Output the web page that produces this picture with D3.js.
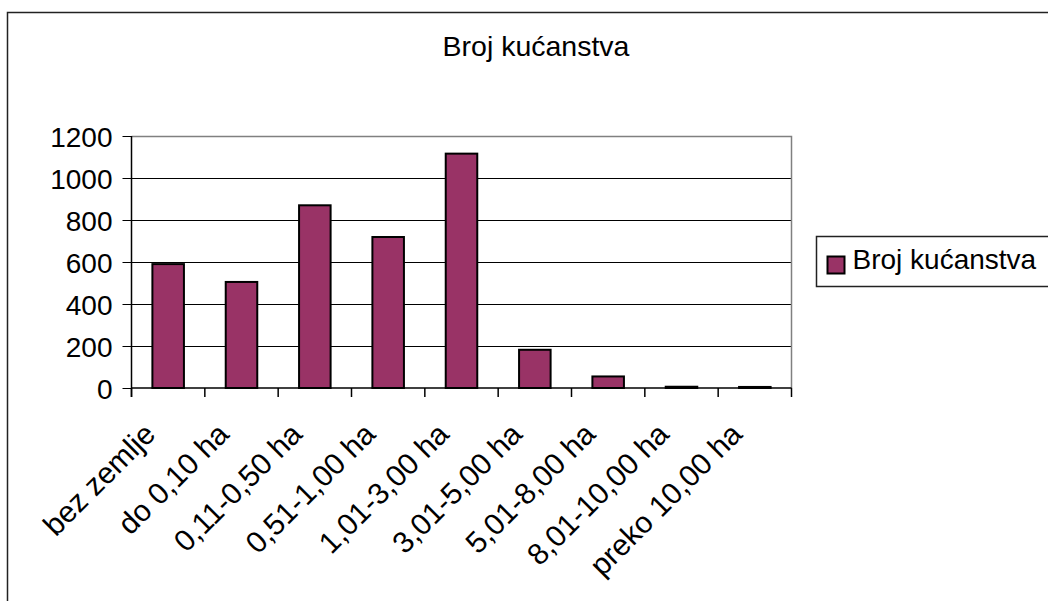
<!DOCTYPE html>
<html>
<head>
<meta charset="utf-8">
<script src="https://cdn.jsdelivr.net/npm/d3@7"></script>
<style>
  body { margin: 0; background: #fff; }
  text { font-family: "Liberation Sans", Arial, sans-serif; fill: #000; }
</style>
</head>
<body>
<div id="chart"></div>
<script>
var categories = ["bez zemlje", "do 0,10 ha", "0,11-0,50 ha", "0,51-1,00 ha", "1,01-3,00 ha",
                  "3,01-5,00 ha", "5,01-8,00 ha", "8,01-10,00 ha", "preko 10,00 ha"];
var values = [590, 505, 870, 719, 1116, 182, 55, 6, 5];
var yTicks = [0, 200, 400, 600, 800, 1000, 1200];
var seriesName = "Broj kućanstva";
var title = "Broj kućanstva";

var W = 1048, H = 601;
var margin = {top: 136, left: 131.5, right: 256.5, bottom: 213};
var width = W - margin.left - margin.right,
    height = H - margin.top - margin.bottom;

var svg = d3.select("#chart").append("svg")
    .attr("width", W)
    .attr("height", H);

// outer chart border (runs off the page on right/bottom)
svg.append("rect")
    .attr("x", 7.5).attr("y", 12.5)
    .attr("width", 1200).attr("height", 800)
    .attr("fill", "none")
    .attr("stroke", "#222")
    .attr("stroke-width", 1.5);

svg.append("text")
    .attr("x", 536)
    .attr("y", 56)
    .attr("text-anchor", "middle")
    .style("font-size", "28.5px")
    .text(title);

var xScale = d3.scaleBand()
    .domain(categories)
    .range([0, width])
    .padding(0);

var yScale = d3.scaleLinear()
    .domain([0, 1200])
    .range([height, 0]);

var g = svg.append("g")
    .attr("transform", "translate(" + margin.left + "," + margin.top + ")");

// gridlines
g.selectAll("line.grid")
    .data(yTicks.filter(function(d) { return d > 0 && d < 1200; }))
    .enter().append("line")
    .attr("class", "grid")
    .attr("x1", 0).attr("x2", width)
    .attr("y1", function(d) { return Math.round(yScale(d)) + 0.5; })
    .attr("y2", function(d) { return Math.round(yScale(d)) + 0.5; })
    .attr("stroke", "#000")
    .attr("stroke-width", 1);

// plot area border top/right (grey)
g.append("path")
    .attr("d", "M0," + (yScale(1200) + 0.5) + "H" + width + "V" + height)
    .attr("fill", "none")
    .attr("stroke", "#808080")
    .attr("stroke-width", 1.5);

// bars
var bw = xScale.bandwidth() * 0.43;
g.selectAll("rect.bar")
    .data(values)
    .enter().append("rect")
    .attr("class", "bar")
    .attr("x", function(d, i) { return xScale(categories[i]) + (xScale.bandwidth() - bw) / 2; })
    .attr("y", function(d) { return yScale(d); })
    .attr("width", bw)
    .attr("height", function(d) { return height - yScale(d); })
    .attr("fill", "#993366")
    .attr("stroke", "#000")
    .attr("stroke-width", 2);

// axis-y
var yAxis = g.append("g")
    .call(d3.axisLeft(yScale).tickValues(yTicks).tickSize(9).tickPadding(10).tickFormat(d3.format("d")));
yAxis.select(".domain").attr("stroke", "#000").attr("stroke-width", 1.5)
    .attr("d", "M0,0V" + (height + 9));
yAxis.selectAll(".tick line").attr("stroke", "#000");
yAxis.selectAll("text")
    .style("font-size", "28px")
    .style("font-family", "'Liberation Sans', Arial, sans-serif")
    .attr("dy", "0.36em");

// axis-x
var boundaries = categories.map(function(c) { return xScale(c); }).concat([width]);
g.append("line")
    .attr("x1", 0).attr("x2", width)
    .attr("y1", height).attr("y2", height)
    .attr("stroke", "#000")
    .attr("stroke-width", 1.5);
g.selectAll("line.xtick")
    .data(boundaries)
    .enter().append("line")
    .attr("class", "xtick")
    .attr("x1", function(d) { return d; }).attr("x2", function(d) { return d; })
    .attr("y1", height).attr("y2", height + 9)
    .attr("stroke", "#000")
    .attr("stroke-width", 1.5);

g.selectAll("text.xlab")
    .data(categories)
    .enter().append("text")
    .attr("class", "xlab")
    .attr("text-anchor", "end")
    .style("font-size", "30px")
    .attr("transform", function(d) {
        var x = xScale(d) + xScale.bandwidth() / 2 - 11;
        var y = height + 48;
        return "translate(" + x + "," + y + ") rotate(-45)";
    })
    .text(function(d) { return d; });

// legend
var lg = svg.append("g").attr("transform", "translate(816.5,236.5)");
lg.append("rect")
    .attr("width", 300).attr("height", 50)
    .attr("fill", "#fff")
    .attr("stroke", "#222")
    .attr("stroke-width", 1.5);
lg.append("rect")
    .attr("x", 11).attr("y", 20)
    .attr("width", 17).attr("height", 17)
    .attr("fill", "#993366")
    .attr("stroke", "#000")
    .attr("stroke-width", 2);
lg.append("text")
    .attr("x", 36).attr("y", 32)
    .style("font-size", "28px")
    .text(seriesName);
</script>
</body>
</html>
